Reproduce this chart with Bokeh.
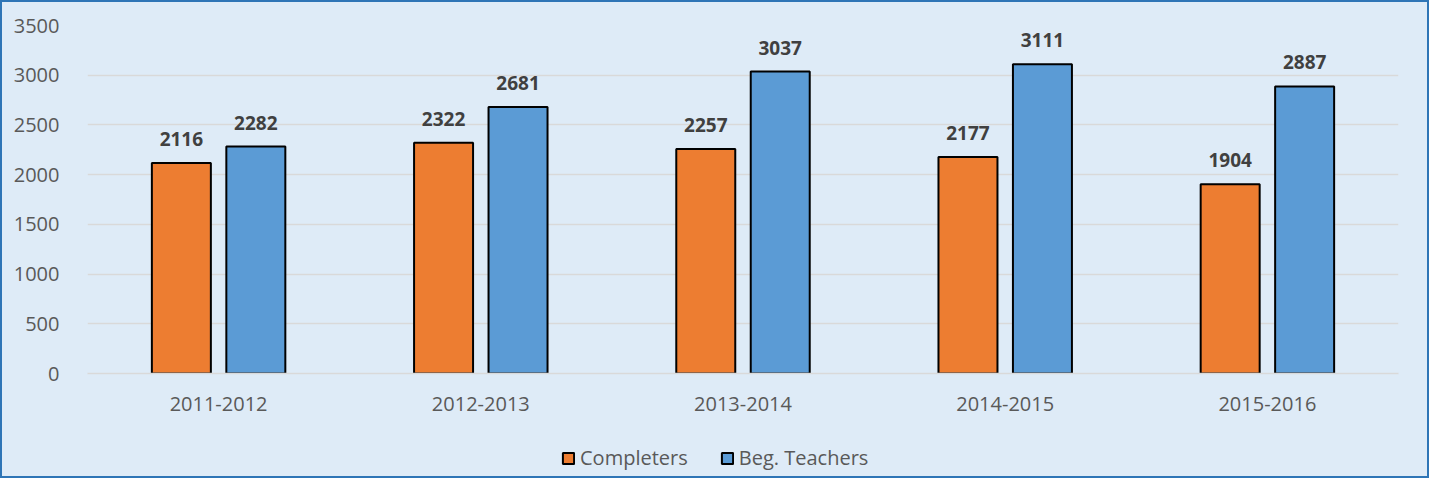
from bokeh.plotting import figure
from bokeh.layouts import column
from bokeh.models import ColumnDataSource, FactorRange, Range1d, FixedTicker, Legend, LegendItem
from bokeh.transform import dodge
from bokeh.core.properties import value
from bokeh.embed import file_html
from bokeh.resources import INLINE

years = ["2011-2012", "2012-2013", "2013-2014", "2014-2015", "2015-2016"]
completers = [2116, 2322, 2257, 2177, 1904]
beg_teachers = [2282, 2681, 3037, 3111, 2887]
series_names = ["Completers", "Beg. Teachers"]
y_ticks = [0, 500, 1000, 1500, 2000, 2500, 3000, 3500]

src = ColumnDataSource(dict(
    year=years,
    completers=completers,
    beg=beg_teachers,
    completers_lbl=[str(v) for v in completers],
    beg_lbl=[str(v) for v in beg_teachers],
))

FONT = "Open Sans"
BG = "#DEEBF7"
ORANGE = "#ED7D31"
BLUE = "#5B9BD5"

p = figure(
    x_range=FactorRange(*years, range_padding=0),
    y_range=Range1d(0, 3500),
    frame_width=1311, frame_height=348,
    min_border_left=85, min_border_right=29, min_border_top=23, min_border_bottom=50,
    output_backend="svg", toolbar_location=None,
)
p.background_fill_color = BG
p.border_fill_color = BG
p.outline_line_color = None

off = 0.142
bw = 0.225
p.vbar(x=dodge("year", -off, range=p.x_range), top="completers", width=bw, source=src,
       fill_color=ORANGE, line_color="black", line_width=2)
p.vbar(x=dodge("year", off, range=p.x_range), top="beg", width=bw, source=src,
       fill_color=BLUE, line_color="black", line_width=2)

for col, lbl, d in (("completers", "completers_lbl", -off), ("beg", "beg_lbl", off)):
    p.text(x=dodge("year", d, range=p.x_range), y=col, text=lbl, source=src,
           text_align="center", text_baseline="middle", y_offset=-24,
           text_font=value(FONT), text_font_style="bold", text_font_size="19px",
           text_color="#404040")

# axes
p.yaxis.ticker = FixedTicker(ticks=y_ticks)
p.yaxis.axis_line_color = None
p.yaxis.major_tick_line_color = None
p.yaxis.minor_tick_line_color = None
p.yaxis.major_label_text_font = FONT
p.yaxis.major_label_text_font_size = "20px"
p.yaxis.major_label_text_color = "#595959"
p.yaxis.major_label_standoff = 22

p.xaxis.axis_line_color = "#D9D9D9"
p.xaxis.axis_line_width = 1.5
p.xaxis.major_tick_line_color = None
p.xaxis.minor_tick_line_color = None
p.xaxis.major_label_text_font = FONT
p.xaxis.major_label_text_font_size = "20px"
p.xaxis.major_label_text_color = "#595959"
p.xaxis.major_label_standoff = 17

p.xgrid.grid_line_color = None
p.ygrid.grid_line_color = "#D9D9D9"
p.ygrid.grid_line_width = 1.5
p.ygrid.ticker = FixedTicker(ticks=y_ticks)

# legend strip below the chart (proxy glyphs carry no drawable data)
nan = float("nan")
lg = figure(width=1425, height=53, x_axis_type=None, y_axis_type=None,
            x_range=Range1d(0, 1), y_range=Range1d(0, 1),
            min_border=0, output_backend="svg", toolbar_location=None)
lg.background_fill_color = BG
lg.border_fill_color = BG
lg.outline_line_color = None
lg.xgrid.grid_line_color = None
lg.ygrid.grid_line_color = None
e1 = lg.vbar(x=[nan], bottom=[nan], top=[nan], width=0.1, fill_color=ORANGE, line_color="black", line_width=2)
e2 = lg.vbar(x=[nan], bottom=[nan], top=[nan], width=0.1, fill_color=BLUE, line_color="black", line_width=2)

legend = Legend(
    items=[LegendItem(label=series_names[0], renderers=[e1]),
           LegendItem(label=series_names[1], renderers=[e2])],
    orientation="horizontal", location=(474, 5),
    glyph_width=14, glyph_height=14, label_standoff=5, spacing=32,
    padding=0, margin=0, border_line_color=None, background_fill_alpha=0,
    label_text_font=FONT, label_text_font_size="20px", label_text_color="#595959",
)
lg.add_layout(legend, "center")

layout = column(p, lg, spacing=0)
layout.styles = {"border": "2px solid #2E75B6", "background-color": BG}

open("out.html", "w").write(file_html(layout, INLINE))
